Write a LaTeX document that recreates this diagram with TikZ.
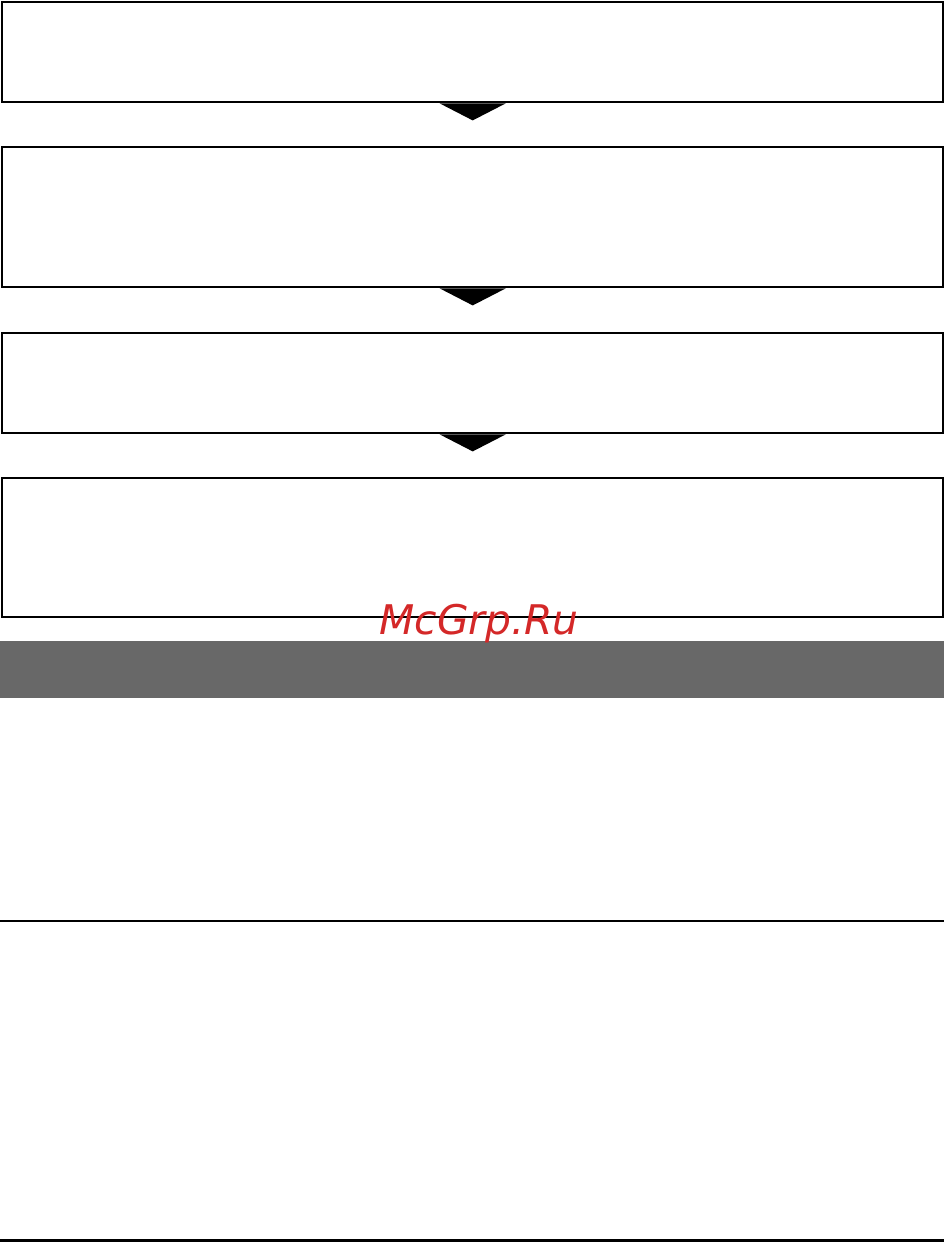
\documentclass[tikz,border=0pt]{standalone}
\usepackage{fontspec}
\newfontfamily\wmfont{DejaVu Sans}
\begin{document}
\begin{tikzpicture}[x=1bp,y=-1bp,
  stepbox/.style={draw=black,line width=2.4bp,rectangle,minimum width=941bp,inner sep=0pt,anchor=north west},
  tri/.style={fill=black,draw=none},
  rule/.style={line width=2.4bp,draw=black}]
\useasboundingbox (0,0) rectangle (944,1242);
\node[stepbox,minimum height=100bp] (b1) at (1,1) {};
\node[stepbox,minimum height=140bp] (b2) at (1,146) {};
\node[stepbox,minimum height=100bp] (b3) at (1,332) {};
\node[stepbox,minimum height=139bp] (b4) at (1,477) {};
\foreach \b in {b1,b2,b3} {
  \fill[tri] ([xshift=-33bp]\b.south) -- ([xshift=33bp]\b.south) -- ([yshift=-17bp]\b.south) -- cycle;
}
\fill[fill={rgb,255:red,104;green,104;blue,104}] (0,641) rectangle (944,698);
\node[font=\wmfont\itshape\fontsize{41}{41}\selectfont,text={rgb,255:red,212;green,40;blue,40},anchor=base] (wm) at (479,634) {McGrp.Ru};
\coordinate (l1a) at (0,921); \coordinate (l1b) at (944,921);
\coordinate (l2a) at (0,1240.5); \coordinate (l2b) at (944,1240.5);
\draw[rule] (l1a) -- (l1b);
\draw[rule] (l2a) -- (l2b);
\end{tikzpicture}
\end{document}
